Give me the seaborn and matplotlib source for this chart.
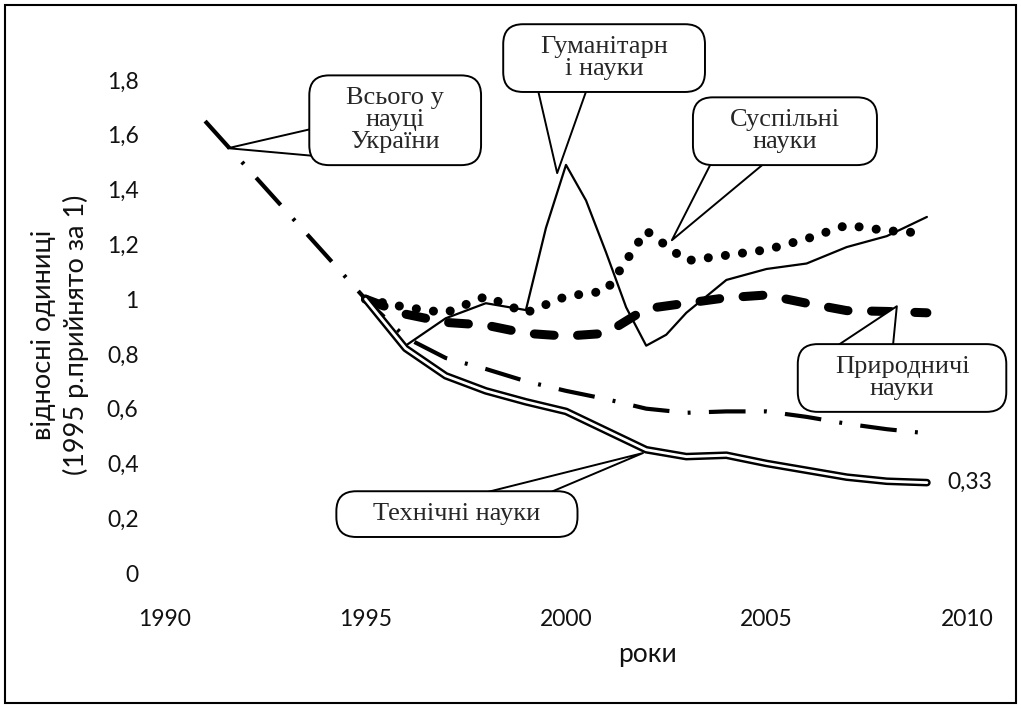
import matplotlib
matplotlib.use("Agg")
import matplotlib.pyplot as plt
from matplotlib.patches import Rectangle, BoxStyle
import seaborn as sns


# data (relative units, 1995 = 1)
years_total = [1991, 1995, 1996, 1997, 1998, 1999, 2000, 2001, 2002, 2003, 2004, 2005, 2006, 2007, 2008, 2009]
total = [1.65, 1.0, 0.86, 0.785, 0.745, 0.70, 0.665, 0.635, 0.60, 0.585, 0.59, 0.59, 0.57, 0.545, 0.525, 0.51]

years = [1995, 1996, 1997, 1998, 1999, 2000, 2001, 2002, 2003, 2004, 2005, 2006, 2007, 2008, 2009]
social = [1.0, 0.97, 0.95, 1.01, 0.95, 1.01, 1.03, 1.25, 1.14, 1.16, 1.18, 1.22, 1.27, 1.25, 1.24]
natural = [1.0, 0.945, 0.915, 0.905, 0.875, 0.865, 0.875, 0.965, 0.985, 1.005, 1.015, 0.985, 0.958, 0.955, 0.95]
technical = [1.0, 0.82, 0.72, 0.665, 0.625, 0.59, 0.52, 0.45, 0.425, 0.43, 0.40, 0.375, 0.35, 0.335, 0.33]

years_hum = [1995, 1996, 1997, 1998, 1999, 1999.5, 2000, 2000.5, 2001, 2001.5, 2002, 2002.5, 2003, 2004, 2005, 2006, 2007, 2008, 2009]
humanities = [1.0, 0.83, 0.93, 0.985, 0.96, 1.26, 1.49, 1.36, 1.17, 0.97, 0.83, 0.87, 0.95, 1.07, 1.11, 1.13, 1.19, 1.23, 1.30]

x_ticks = [1990, 1995, 2000, 2005, 2010]
y_ticks = [0, 0.2, 0.4, 0.6, 0.8, 1.0, 1.2, 1.4, 1.6, 1.8]
y_ticklabels = ["0", "0,2", "0,4", "0,6", "0,8", "1", "1,2", "1,4", "1,6", "1,8"]
end_label = "0,33"

sns.set_style("white")
plt.rcParams["font.family"] = ["Lato", "Noto Sans", "DejaVu Sans"]

fig = plt.figure(figsize=(10.21, 7.08), dpi=100)
ax = fig.add_axes([165 / 1021, (708 - 573) / 708, 802 / 1021, 493 / 708])

# lines
sns.lineplot(x=years_total, y=total, ax=ax, color="black", lw=3.0,
             linestyle=(0, (8.8, 4.4, 0.7, 4.4)), dash_capstyle="butt", estimator=None, sort=False)
sns.lineplot(x=years, y=natural, ax=ax, color="black", lw=6.5,
             linestyle=(0, (2.2, 2.6)), dash_capstyle="round", estimator=None, sort=False)
sns.lineplot(x=years, y=social, ax=ax, color="black", lw=6.5,
             linestyle=(0, (0.01, 1.9)), dash_capstyle="round", estimator=None, sort=False)
sns.lineplot(x=years_hum, y=humanities, ax=ax, color="black", lw=1.6, estimator=None, sort=False)
# technical: double line (black outline with white core)
sns.lineplot(x=years, y=technical, ax=ax, color="black", lw=5.5,
             solid_capstyle="round", solid_joinstyle="round", estimator=None, sort=False)
sns.lineplot(x=years, y=technical, ax=ax, color="white", lw=2.0,
             solid_capstyle="round", solid_joinstyle="round", estimator=None, sort=False)

ax.annotate(end_label, xy=(years[-1], technical[-1]), xytext=(15, 0), textcoords="offset points",
            va="center", ha="left", fontsize=16.5, color="#111111")

ax.set_xlim(1990, 2010)
ax.set_ylim(0, 1.8)
ax.set_xticks(x_ticks)
ax.set_xticklabels([str(v) for v in x_ticks])
ax.set_yticks(y_ticks)
ax.set_yticklabels(y_ticklabels)
ax.tick_params(axis="y", length=0, pad=19, labelsize=16.5, labelcolor="#111111")
ax.tick_params(axis="x", length=0, pad=26, labelsize=16.5, labelcolor="#111111")
for s in ax.spines.values():
    s.set_visible(False)
ax.grid(False)

ax.set_xlabel("роки", fontsize=19, color="#111111")
ax.xaxis.set_label_coords(0.602, -0.166)
ax.xaxis.label.set_va("center")
ax.set_ylabel("відносні одиниці\n(1995 р.прийнято за 1)", fontsize=19.5, color="#111111", linespacing=1.35)
ax.yaxis.set_label_coords(-0.131, 0.483)
ax.yaxis.label.set_va("center")


# callout boxes (rounded, wider than tall)
def callout_box(x0, y0, width, height, mutation_size):
    padx = 1.4 * mutation_size
    pady = 0.45 * mutation_size
    return BoxStyle.Round(pad=0, rounding_size=0.75)(
        x0 - padx, y0 - pady, width + 2 * padx, height + 2 * pady, mutation_size)


def callout(text, tip, center, tail, relpos):
    ax.annotate(text, xy=tip, xytext=center, ha="center", va="center",
                fontsize=19, family=["Liberation Serif", "DejaVu Serif"], linespacing=1.0,
                annotation_clip=False,
                bbox=dict(boxstyle=callout_box, fc="white", ec="black", lw=1.4),
                arrowprops=dict(arrowstyle=f"wedge,tail_width={tail},shrink_factor=0.5",
                                fc="white", ec="black", lw=1.4, relpos=relpos,
                                patchA=None, shrinkA=0, shrinkB=0))


callout("Всього у\nнауці\nУкраїни", (1991.57, 1.551), (1995.74, 1.653), 1.43, (0.0, 0.2))
callout("Гуманітарн\nі науки", (1999.78, 1.46), (2000.95, 1.88), 2.35, (0.18, 0.3))
callout("Суспільні\nнауки", (2002.64, 1.215), (2005.46, 1.613), 2.0, (0.2, 0.3))
callout("Природничі\nнауки", (2008.25, 0.974), (2008.38, 0.712), 2.65, (0.18, 0.7))
callout("Технічні науки", (2001.92, 0.438), (1997.28, 0.215), 1.05, (0.6, 0.7))

# outer frame
fig.patches.append(Rectangle((5 / 1021, 5 / 708), 1011 / 1021, 698 / 708, transform=fig.transFigure,
                             fill=False, ec="black", lw=1.5))

fig.savefig("out.png", dpi=100)
